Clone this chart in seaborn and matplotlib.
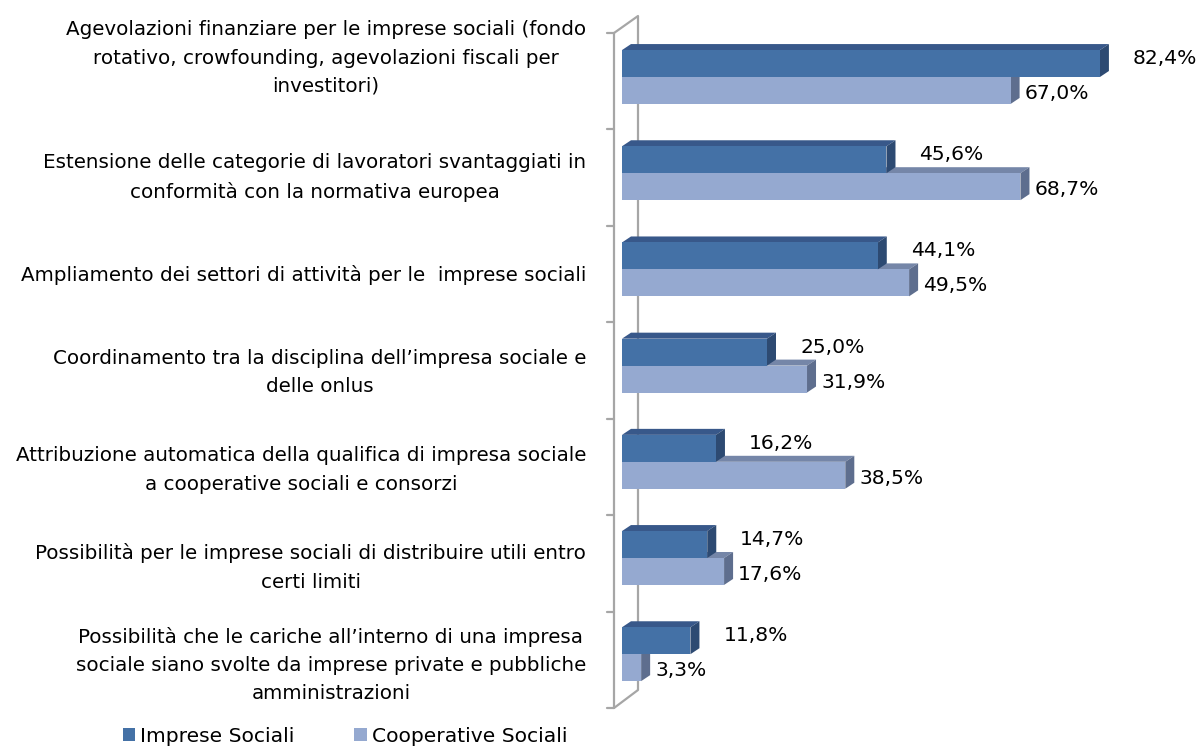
import numpy as np
import pandas as pd
import matplotlib
matplotlib.use("Agg")
import matplotlib.pyplot as plt
from matplotlib.patches import Polygon, Patch
import seaborn as sns

categories = [
    "Agevolazioni finanziare per le imprese sociali (fondo\nrotativo, crowfounding, agevolazioni fiscali per\ninvestitori)",
    "Estensione delle categorie di lavoratori svantaggiati in\nconformità con la normativa europea",
    "Ampliamento dei settori di attività per le  imprese sociali",
    "Coordinamento tra la disciplina dell’impresa sociale e\ndelle onlus",
    "Attribuzione automatica della qualifica di impresa sociale\na cooperative sociali e consorzi",
    "Possibilità per le imprese sociali di distribuire utili entro\ncerti limiti",
    "Possibilità che le cariche all’interno di una impresa\nsociale siano svolte da imprese private e pubbliche\namministrazioni",
]
series_names = ["Imprese Sociali", "Cooperative Sociali"]
imprese = [82.4, 45.6, 44.1, 25.0, 16.2, 14.7, 11.8]
cooperative = [67.0, 68.7, 49.5, 31.9, 38.5, 17.6, 3.3]

front_colors = ["#4471A6", "#95A9D0"]
top_colors = ["#38588A", "#7586A8"]
side_colors = ["#2D4A72", "#5E6E8E"]

sns.set_theme(style="white")
plt.rcParams["font.family"] = ["DejaVu Sans"]
plt.rcParams["text.color"] = "black"

FS = 14.6
FS_CAT = 14.35

W, H = 1203, 746
fig = plt.figure(figsize=(W / 100, H / 100), dpi=100)
ax = fig.add_axes([0, 0, 1, 1])

df = pd.DataFrame({
    "cat": categories * 2,
    "val": imprese + cooperative,
    "series": [series_names[0]] * len(categories) + [series_names[1]] * len(categories),
})
sns.barplot(data=df, y="cat", x="val", hue="series", orient="h", width=0.56,
            palette=front_colors, linewidth=0, saturation=1, legend=False, ax=ax)

# pixel mapping: x=0 at px 622, 5.8 px per %, category i center at 77 + 96.2 i
px_per_x = 5.8
x0_px = 622
px_per_y = 96.2
y0_px = 77
ax.set_xlim(-x0_px / px_per_x, (W - x0_px) / px_per_x)
ax.set_ylim((H - y0_px) / px_per_y, -y0_px / px_per_y)
ax.axis("off")

dx = 9 / px_per_x
dy = 6 / px_per_y

zbase = {0: 3, 1: 1}
for si, cont in enumerate(ax.containers):
    for bar in cont:
        w = bar.get_width()
        yt = bar.get_y()
        h = bar.get_height()
        yb = yt + h
        bar.set_zorder(zbase[si] + 1)
        top = Polygon([(0, yt), (dx, yt - dy), (w + dx, yt - dy), (w, yt)],
                      closed=True, facecolor=top_colors[si], edgecolor="none",
                      zorder=zbase[si])
        side = Polygon([(w, yt), (w + dx, yt - dy), (w + dx, yb - dy), (w, yb)],
                       closed=True, facecolor=side_colors[si], edgecolor="none",
                       zorder=zbase[si])
        ax.add_patch(top)
        ax.add_patch(side)
        label = f"{w:.1f}%".replace(".", ",")
        if si == 0:
            ax.text(w + 33 / px_per_x, yt + h / 2 - 5 / px_per_y, label,
                    ha="left", va="center", fontsize=FS, color="black", zorder=6)
        else:
            ax.text(w + 14 / px_per_x, yt + h / 2 + 3 / px_per_y, label,
                    ha="left", va="center", fontsize=FS, color="black", zorder=6)

# walls (front and back lines of the 3D side wall)
n = len(categories)
wall_col = "#A6A6A6"
fx = (614 - x0_px) / px_per_x
bx = (638 - x0_px) / px_per_x
f_top = (33 - y0_px) / px_per_y
f_bot = (708 - y0_px) / px_per_y
b_top = (16 - y0_px) / px_per_y
b_bot = (690 - y0_px) / px_per_y
lw = 1.6
ax.plot([fx, fx], [f_top, f_bot], color=wall_col, lw=lw, zorder=0.5, solid_capstyle="butt")
ax.plot([bx, bx], [b_top, b_bot], color=wall_col, lw=lw, zorder=0.5, solid_capstyle="butt")
ax.plot([fx, bx], [f_top, b_top], color=wall_col, lw=lw, zorder=0.5)
ax.plot([fx, bx], [f_bot, b_bot], color=wall_col, lw=lw, zorder=0.5)
tick_len = 7 / px_per_x
for k in range(n + 1):
    yk = f_top + k * (f_bot - f_top) / n
    ax.plot([fx - tick_len, fx], [yk, yk], color=wall_col, lw=lw, zorder=0.5)

# category labels
label_x = (586 - x0_px) / px_per_x
for i, lab in enumerate(categories):
    yc = (80 + 97.5 * i - y0_px) / px_per_y
    if i == 0:
        yc = (58 - y0_px) / px_per_y
    ax.text(label_x, yc, lab, ha="right", va="center", multialignment="center",
            fontsize=FS_CAT, color="black", linespacing=1.62)

# legend
handles = [Patch(facecolor=c, edgecolor="none") for c in front_colors]
leg = fig.legend(handles, series_names, loc="center", bbox_to_anchor=(345 / W, 1 - 736 / H),
                 ncol=2, frameon=False, fontsize=FS, handlelength=0.6, handleheight=0.6,
                 handletextpad=0.25, columnspacing=2.95, borderpad=0, borderaxespad=0)
for t in leg.get_texts():
    t.set_color("black")

fig.savefig("out.png", dpi=100)
